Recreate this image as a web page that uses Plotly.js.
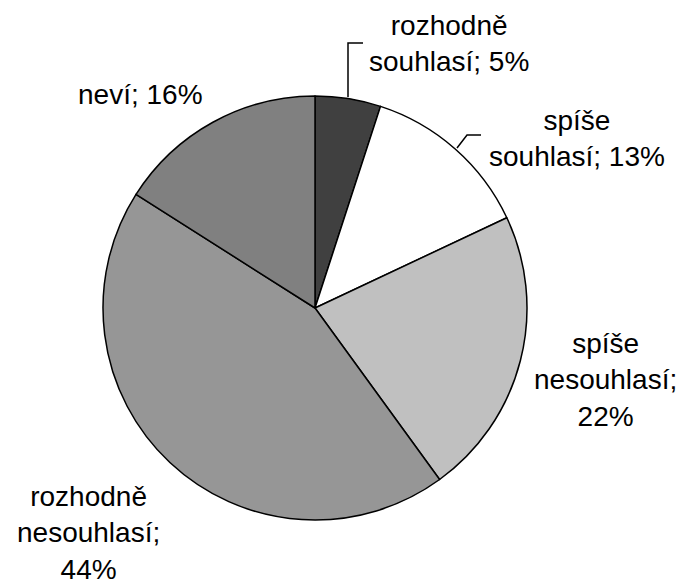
<!DOCTYPE html>
<html>
<head>
<meta charset="utf-8">
<script src="https://cdn.plot.ly/plotly-3.0.1.min.js"></script>
<style>html,body{margin:0;padding:0;background:#fff;}#chart{width:687px;height:585px;}</style>
</head>
<body>
<div id="chart"></div>
<script>
const categories = ['rozhodně souhlasí', 'spíše souhlasí', 'spíše nesouhlasí', 'rozhodně nesouhlasí', 'neví'];
const values = [5, 13, 22, 44, 16];
const labelTexts = ['rozhodně<br>souhlasí; 5%', 'spíše<br>souhlasí; 13%', 'spíše<br>nesouhlasí;<br>22%', 'rozhodně<br>nesouhlasí;<br>44%', 'neví; 16%'];
const colors = ['#404040', '#ffffff', '#c0c0c0', '#969696', '#808080'];

const W = 687, H = 585;
const cx = 315, cy = 308, R = 212;
const px = x => x / W;
const py = y => 1 - y / H;

// label centres (pixels)
const labelPos = [[449, 44], [577, 138], [605, 380], [88, 533], [140, 95]];

const trace = {
  type: 'pie',
  labels: categories,
  values: values,
  sort: false,
  direction: 'clockwise',
  rotation: 0,
  textinfo: 'none',
  hoverinfo: 'label+percent',
  marker: {colors: colors, line: {color: '#000000', width: 1.5}},
  domain: {x: [px(cx - R), px(cx + R)], y: [py(cy + R), py(cy - R)]},
  showlegend: false
};

const annotations = labelTexts.map((t, i) => ({
  xref: 'paper', yref: 'paper',
  x: px(labelPos[i][0]), y: py(labelPos[i][1]),
  xanchor: 'center', yanchor: 'middle',
  text: t, showarrow: false, align: 'center',
  font: {family: 'Liberation Sans, Arial, sans-serif', size: 28, color: '#000000'}
}));

const shapes = [
  {type: 'path', xref: 'paper', yref: 'paper',
   path: `M ${px(348)} ${py(97)} L ${px(348)} ${py(43)} L ${px(363)} ${py(43)}`,
   line: {color: '#000000', width: 1.5}},
  {type: 'path', xref: 'paper', yref: 'paper',
   path: `M ${px(457)} ${py(148)} L ${px(467)} ${py(135)} L ${px(481)} ${py(135)}`,
   line: {color: '#000000', width: 1.5}}
];

const layout = {
  width: W, height: H,
  margin: {l: 0, r: 0, t: 0, b: 0},
  paper_bgcolor: '#ffffff',
  plot_bgcolor: '#ffffff',
  annotations: annotations,
  shapes: shapes
};

Plotly.newPlot('chart', [trace], layout, {displayModeBar: false, staticPlot: true});
</script>
</body>
</html>
